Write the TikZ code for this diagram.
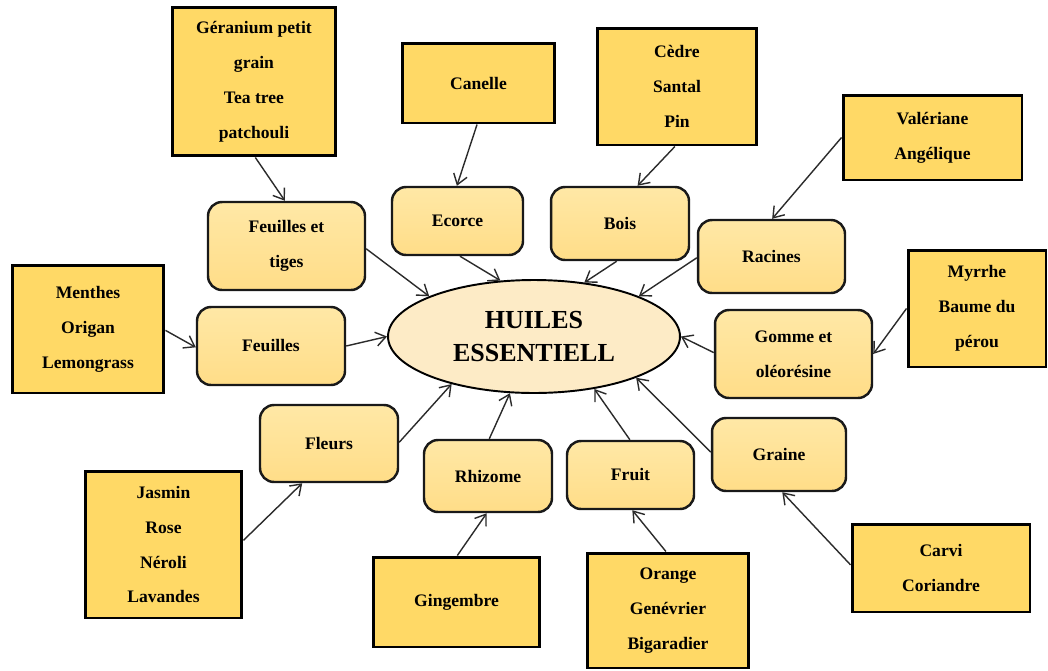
\documentclass[tikz,border=0pt]{standalone}
\usepackage{fontspec}
\setmainfont{Liberation Serif}
\usetikzlibrary{shapes.geometric, arrows.meta}

\definecolor{orfonce}{HTML}{FFD966}
\definecolor{orhaut}{HTML}{FFE8A6}
\definecolor{orbas}{HTML}{FFDD88}
\definecolor{creme}{HTML}{FDEBC6}
\definecolor{trait}{HTML}{2B2B2B}

\tikzset{
  source/.style={
    draw=black,
    line width=1.7pt,
    fill=orfonce,
    align=center,
    inner sep=2pt,
    font=\fontsize{10}{19.9}\selectfont\bfseries
  },
  organe/.style={
    draw=black!90,
    line width=1.4pt,
    rounded corners=0.28cm,
    top color=orhaut,
    bottom color=orbas,
    align=center,
    inner sep=2pt,
    font=\fontsize{10}{19.9}\selectfont\bfseries
  },
  fleche/.style={
    -{Straight Barb[length=2mm, width=2.8mm]},
    line width=0.8pt,
    draw=trait
  }
}

\begin{document}
\begin{tikzpicture}[x=0.02cm, y=-0.02cm]
  \useasboundingbox[fill=white] (0, 0) rectangle (1048, 670);

  % huiles essentielles
  \node[
    ellipse,
    draw=black,
    line width=1.1pt,
    fill=creme,
    align=center,
    minimum width=5.84cm,
    minimum height=2.26cm,
    font=\fontsize{14.8}{19.3}\selectfont\bfseries
  ] (huiles) at (534, 336.5) {HUILES\\ESSENTIELL};

  % parties de la plante
  \node[
    organe,
    minimum width=3.14cm,
    minimum height=1.76cm
  ] (fet) at (286.5, 246) {Feuilles et\\tiges};
  \node[
    organe,
    minimum width=2.62cm,
    minimum height=1.36cm
  ] (ecorce) at (457.5, 221) {Ecorce};
  \node[
    organe,
    minimum width=2.76cm,
    minimum height=1.46cm
  ] (bois) at (620, 223.5) {Bois};
  \node[
    organe,
    minimum width=2.94cm,
    minimum height=1.46cm
  ] (racines) at (771.5, 256.5) {Racines};
  \node[
    organe,
    minimum width=2.96cm,
    minimum height=1.56cm
  ] (feuilles) at (271, 346) {Feuilles};
  \node[
    organe,
    minimum width=3.14cm,
    minimum height=1.76cm
  ] (gomme) at (793.5, 354) {Gomme et\\oléorésine};
  \node[
    organe,
    minimum width=2.76cm,
    minimum height=1.54cm
  ] (fleurs) at (329, 443.5) {Fleurs};
  \node[
    organe,
    minimum width=2.56cm,
    minimum height=1.44cm
  ] (rhizome) at (488, 476) {Rhizome};
  \node[
    organe,
    minimum width=2.54cm,
    minimum height=1.36cm
  ] (fruit) at (630.5, 475) {Fruit};
  \node[
    organe,
    minimum width=2.68cm,
    minimum height=1.46cm
  ] (graine) at (779, 454.5) {Graine};

  % plantes
  \node[
    source,
    minimum width=3.28cm,
    minimum height=2.98cm
  ] (geranium) at (254, 81.5) {Géranium petit\\grain\\Tea tree\\patchouli};
  \node[
    source,
    minimum width=3.06cm,
    minimum height=1.6cm
  ] (canelle) at (478.5, 83) {Canelle};
  \node[
    source,
    minimum width=3.2cm,
    minimum height=2.34cm
  ] (cedre) at (677, 86.5) {Cèdre\\Santal\\Pin};
  \node[
    source,
    minimum width=3.58cm,
    minimum height=1.7cm
  ] (valeriane) at (932.5, 137.5) {Valériane\\Angélique};
  \node[
    source,
    minimum width=3.04cm,
    minimum height=2.56cm
  ] (menthes) at (88, 329) {Menthes\\Origan\\Lemongrass};
  \node[
    source,
    minimum width=2.76cm,
    minimum height=2.34cm
  ] (myrrhe) at (977, 308.5) {Myrrhe\\Baume du\\pérou};
  \node[
    source,
    minimum width=3.14cm,
    minimum height=2.94cm
  ] (jasmin) at (163.5, 544.5) {Jasmin\\Rose\\Néroli\\Lavandes};
  \node[
    source,
    minimum width=3.34cm,
    minimum height=1.8cm
  ] (gingembre) at (456.5, 602) {Gingembre};
  \node[
    source,
    minimum width=3.24cm,
    minimum height=2.3cm
  ] (orange) at (668, 610.5) {Orange\\Genévrier\\Bigaradier};
  \node[
    source,
    minimum width=3.56cm,
    minimum height=1.76cm
  ] (carvi) at (941, 568) {Carvi\\Coriandre};

  % plante -> partie
  \draw[fleche] (geranium.-89) -- (fet.92);
  \draw[fleche] (canelle.-92) -- (ecorce.91);
  \draw[fleche] (cedre.-92) -- (bois.65);
  \draw[fleche] (valeriane.180) -- (racines.89);
  \draw[fleche] (menthes.-1) -- (feuilles.181);
  \draw[fleche] (myrrhe.180) -- (gomme.0);
  \draw[fleche] (jasmin.3) -- (fleurs.-124);
  \draw[fleche] (gingembre.89) -- (rhizome.-92);
  \draw[fleche] (orange.92) -- (fruit.-87);
  \draw[fleche] (carvi.178) -- (graine.-85);

  % partie -> huiles
  \draw[fleche] (fet.-2) -- (huiles.159);
  \draw[fleche] (ecorce.-86) -- (huiles.121);
  \draw[fleche] (bois.-95) -- (huiles.47);
  \draw[fleche] (racines.181) -- (huiles.21);
  \draw[fleche] (feuilles.0) -- (huiles.180);
  \draw[fleche] (gomme.179) -- (huiles.0);
  \draw[fleche] (fleurs.1) -- (huiles.-150);
  \draw[fleche] (rhizome.88) -- (huiles.-113);
  \draw[fleche] (fruit.91) -- (huiles.-41);
  \draw[fleche] (graine.178) -- (huiles.-22);
\end{tikzpicture}
\end{document}
